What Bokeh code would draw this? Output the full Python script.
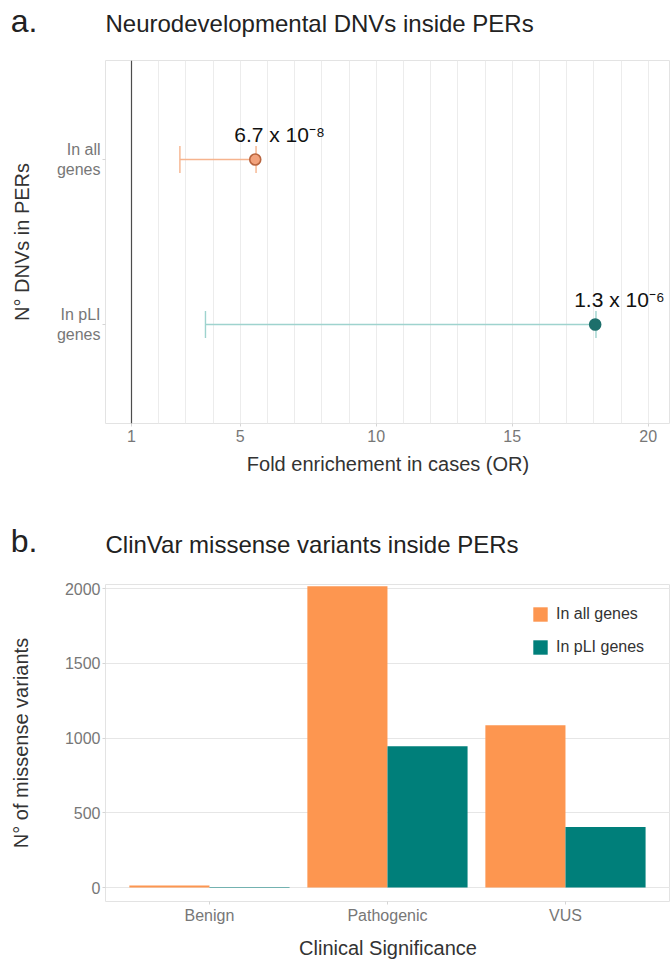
from bokeh.plotting import figure
from bokeh.models import (Range1d, FixedTicker, Span, Whisker, TeeHead,
                          ColumnDataSource)
from bokeh.layouts import column
from bokeh.transform import dodge
from bokeh.embed import file_html
from bokeh.resources import INLINE
from bokeh.core.properties import value

FONT = "Liberation Sans"

# ---------------- data: panel a ----------------
panel_a_letter = "a."
panel_a_title = "Neurodevelopmental DNVs inside PERs"
groups_a = ["In all genes", "In pLI genes"]
group_tick_labels = ["In all\ngenes", "In pLI\ngenes"]
odds_ratio = [5.55, 18.05]
ci_lower = [2.78, 3.72]
ci_upper = [5.58, 18.08]
p_values = ["6.7 x 10\u207b\u2078", "1.3 x 10\u207b\u2076"]
x_ticks_a = [1, 5, 10, 15, 20]

# ---------------- data: panel b ----------------
panel_b_letter = "b."
panel_b_title = "ClinVar missense variants inside PERs"
categories_b = ["Benign", "Pathogenic", "VUS"]
series_b = ["In all genes", "In pLI genes"]
all_genes = [14, 2015, 1085]
pli_genes = [4, 945, 405]
y_ticks_b = [0, 500, 1000, 1500, 2000]

ORANGE = "#FD9650"
TEAL = "#007F7A"
ORANGE_LIGHT = "#F6B48E"
TEAL_LIGHT = "#9ED3CE"
POINT_FILL = ["#F2A27C", "#1D6F6B"]
POINT_LINE = ["#B8653F", "#1D6F6B"]
BAR_LIGHT = [ORANGE_LIGHT, TEAL_LIGHT]

W = 670
LEFT = 105
TICK_COLOR = "#777777"
TITLE_COLOR = "#333333"


def header(h, letter, title, baseline):
    p = figure(width=W, height=h, title=None, output_backend="svg",
               toolbar_location=None,
               x_range=Range1d(0, W - LEFT), y_range=Range1d(h, 0),
               x_axis_type=None,
               min_border_left=LEFT, min_border_right=0,
               min_border_top=0, min_border_bottom=0)
    p.outline_line_color = None
    p.grid.visible = False
    ax = p.yaxis[0]
    ax.ticker = FixedTicker(ticks=[])
    ax.axis_line_color = None
    ax.major_tick_line_color = None
    ax.minor_tick_line_color = None
    ax.axis_label = letter
    ax.axis_label_orientation = "horizontal"
    ax.axis_label_standoff = 68
    ax.axis_label_text_font = FONT
    ax.axis_label_text_font_size = "32px"
    ax.axis_label_text_font_style = "normal"
    ax.axis_label_text_color = "#222222"
    p.text(x=[0], y=[baseline], text=[title], text_font=value(FONT),
           text_font_size="24px", text_color="#222222",
           text_baseline="alphabetic", text_align="left")
    return p


def style_axes(p):
    for ax in (p.xaxis[0], p.yaxis[0]):
        ax.axis_line_color = None
        ax.major_tick_line_color = "#d5d5d5"
        ax.major_tick_out = 3
        ax.major_tick_in = 0
        ax.minor_tick_line_color = None
        ax.major_label_text_font = FONT
        ax.major_label_text_font_size = "16px"
        ax.major_label_text_color = TICK_COLOR
        ax.axis_label_text_font = FONT
        ax.axis_label_text_font_size = "20px"
        ax.axis_label_text_font_style = "normal"
        ax.axis_label_text_color = TITLE_COLOR
    p.outline_line_color = "#e3e3e3"
    p.outline_line_width = 1


# ================= panel a =================
head_a = header(40, panel_a_letter, panel_a_title, 23)

pa = figure(width=W, height=470, output_backend="svg", toolbar_location=None,
            x_range=Range1d(0.044, 20.82), y_range=Range1d(2.6, 0.4),
            min_border_left=LEFT, min_border_right=0, min_border_top=20,
            min_border_bottom=87)
style_axes(pa)
pa.xaxis.ticker = FixedTicker(ticks=x_ticks_a)
pa.xaxis.axis_label = "Fold enrichement in cases (OR)"
pa.xaxis.major_label_standoff = 3
pa.xaxis.axis_label_standoff = 8
ypos_a = list(range(1, len(groups_a) + 1))
pa.yaxis.ticker = FixedTicker(ticks=ypos_a)
pa.yaxis.major_label_overrides = {y: lab for y, lab in zip(ypos_a, group_tick_labels)}
pa.yaxis.axis_label = "N\u00b0 DNVs in PERs"
pa.yaxis.major_label_standoff = 2
pa.yaxis.axis_label_standoff = 21
pa.xgrid.ticker = FixedTicker(ticks=list(range(1, 21)))
pa.xgrid.grid_line_color = "#ececec"
pa.ygrid.visible = False

pa.add_layout(Span(location=1, dimension="height", line_color="#4d4d4d",
                   line_width=1.2))

for i in range(len(groups_a)):
    src = ColumnDataSource(dict(y=[ypos_a[i]], lo=[ci_lower[i]], hi=[ci_upper[i]],
                                orr=[odds_ratio[i]], lab=[p_values[i]]))
    pa.add_layout(Whisker(base="y", lower="lo", upper="hi", dimension="width",
                          source=src, line_color=BAR_LIGHT[i], line_width=1.6,
                          lower_head=TeeHead(size=27, line_color=BAR_LIGHT[i], line_width=1.4),
                          upper_head=TeeHead(size=27, line_color=BAR_LIGHT[i], line_width=1.4)))
    pa.scatter(x="orr", y="y", source=src, size=11, fill_color=POINT_FILL[i],
               line_color=POINT_LINE[i], line_width=1.6)
    pa.text(x="orr", y="y", text="lab", source=src, x_offset=-21, y_offset=-25,
            text_align="left", text_baseline="middle", text_font=value(FONT),
            text_font_size="21px", text_color="#111111")

# ================= panel b =================
head_b = header(60, panel_b_letter, panel_b_title, 34)

pb = figure(width=W, height=391, output_backend="svg", toolbar_location=None,
            x_range=Range1d(0.416, 3.59), y_range=Range1d(-93, 2027),
            min_border_left=LEFT, min_border_right=0, min_border_top=14,
            min_border_bottom=59)
style_axes(pb)
xpos_b = list(range(1, len(categories_b) + 1))
pb.xaxis.ticker = FixedTicker(ticks=xpos_b)
pb.xaxis.major_label_overrides = {x: lab for x, lab in zip(xpos_b, categories_b)}
pb.xaxis.axis_label = "Clinical Significance"
pb.xaxis.major_label_standoff = 2
pb.xaxis.axis_label_standoff = 10
pb.yaxis.ticker = FixedTicker(ticks=y_ticks_b)
pb.yaxis.axis_label = "N\u00b0 of missense variants"
pb.yaxis.major_label_standoff = 2
pb.yaxis.axis_label_standoff = 30
pb.xgrid.visible = False
pb.ygrid.ticker = FixedTicker(ticks=y_ticks_b)
pb.ygrid.grid_line_color = "#e6e6e6"

src_b = ColumnDataSource(dict(x=xpos_b, all=all_genes, pli=pli_genes))
pb.vbar(x=dodge("x", -0.225), top="all", bottom=0, width=0.45, source=src_b,
        fill_color=ORANGE, line_color=None, legend_label=series_b[0])
pb.vbar(x=dodge("x", 0.225), top="pli", bottom=0, width=0.45, source=src_b,
        fill_color=TEAL, line_color=None, legend_label=series_b[1])

lg = pb.legend[0]
lg.location = (426, 244)
lg.border_line_color = None
lg.background_fill_alpha = 0
lg.glyph_width = 18
lg.glyph_height = 18
lg.label_height = 20
lg.spacing = 13
lg.padding = 0
lg.margin = 0
lg.label_standoff = 7
lg.label_text_font = FONT
lg.label_text_font_size = "16px"
lg.label_text_color = "#333333"

layout = column(head_a, pa, head_b, pb, spacing=0)
open("out.html", "w").write(file_html(layout, INLINE))
